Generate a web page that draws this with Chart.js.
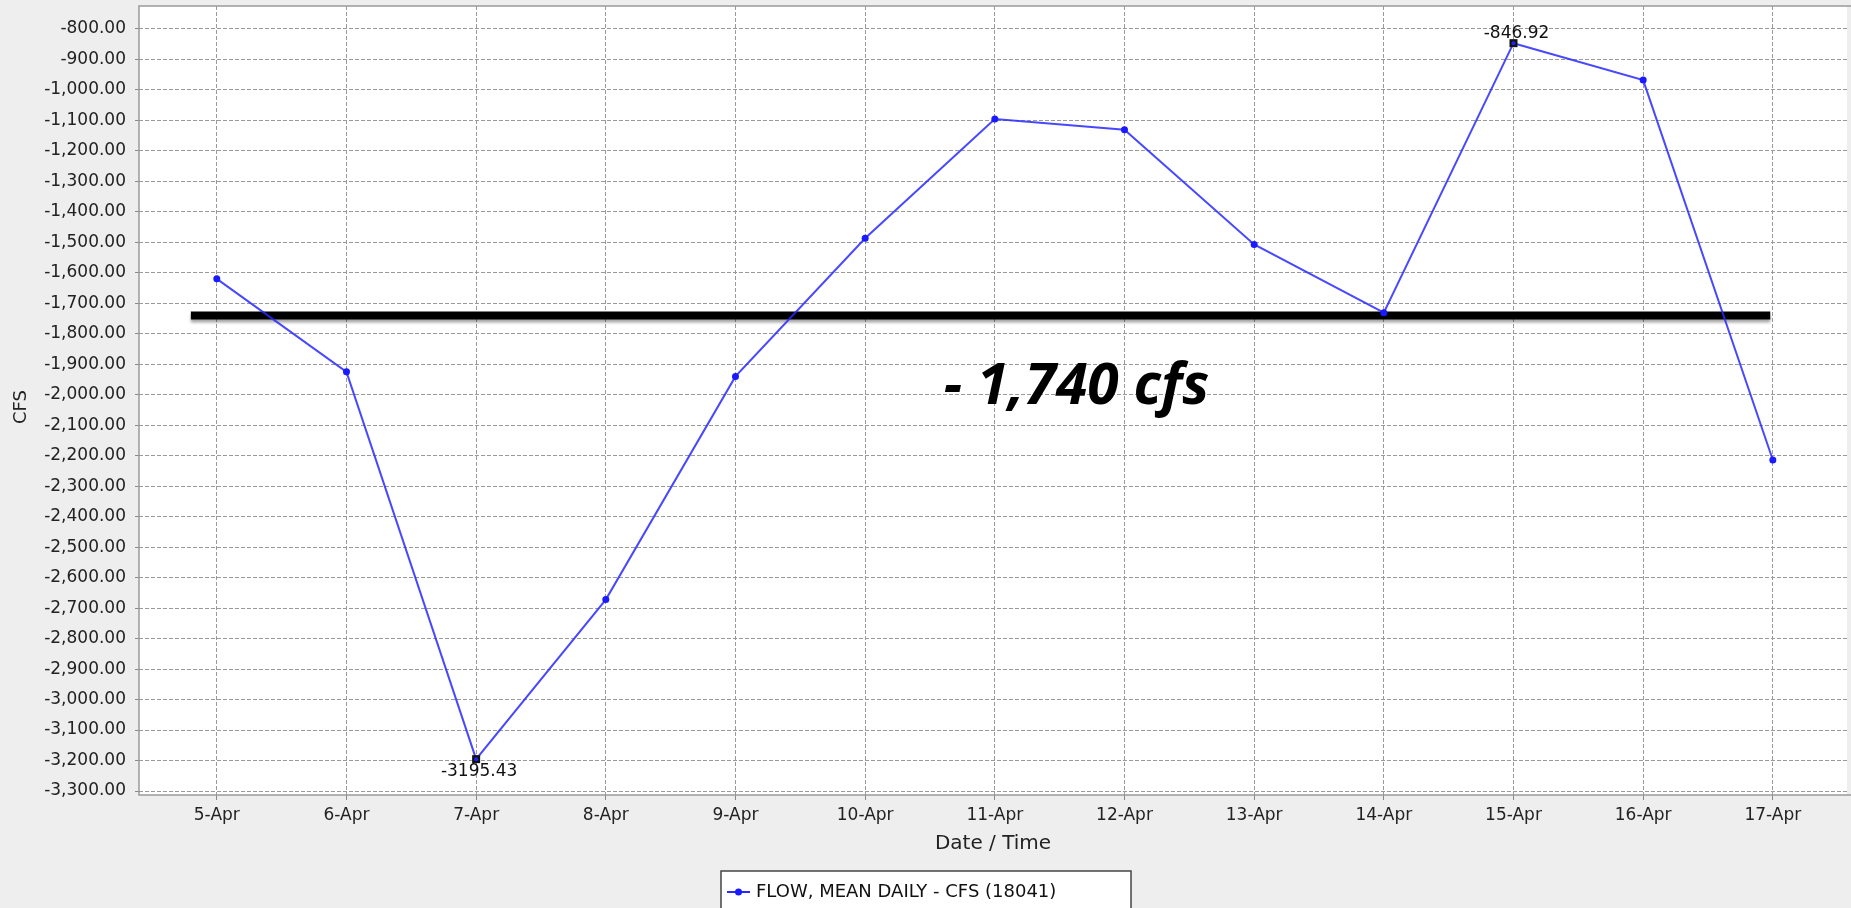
<!DOCTYPE html>
<html>
<head>
<meta charset="utf-8">
<script src="https://cdn.jsdelivr.net/npm/chart.js@4.4.0/dist/chart.umd.min.js"></script>
<style>
  html, body { margin: 0; padding: 0; background: #eeeeee; }
  #wrap { width: 1851px; height: 908px; }
</style>
</head>
<body>
<div id="wrap"><canvas id="flow-chart" width="1851" height="908"></canvas></div>
<script>
// daily flow data
var days = [5, 6, 7, 8, 9, 10, 11, 12, 13, 14, 15, 16, 17];
var dayLabels = ['5-Apr', '6-Apr', '7-Apr', '8-Apr', '9-Apr', '10-Apr', '11-Apr', '12-Apr', '13-Apr', '14-Apr', '15-Apr', '16-Apr', '17-Apr'];
var flowCfs = [-1620, -1925, -3195.43, -2672, -1940, -1487, -1096, -1131, -1507, -1731, -846.92, -968, -2214];

// y ticks every 100 cfs
var yTicks = [];
for (var t = -3300; t <= -800; t += 100) yTicks.push(t);

// reference line drawn across the plot
var refLevel = -1740;
var refSpan = [4.8, 16.98];
var refText = '- 1,740 cfs';
var refTextPos = [11.63, -2030];

// points that carry a value label
var labelledPoints = [2, 10];

var fontFam = '"DejaVu Sans", sans-serif';

var plotExtras = {
    id: 'plotExtras',
    beforeDraw: function(chart) {
        var a = chart.chartArea, c = chart.ctx;
        c.save();
        c.fillStyle = '#ffffff';
        c.fillRect(a.left, a.top, a.right - a.left, a.bottom - a.top);
        c.restore();
    },
    beforeDatasetsDraw: function(chart) {
        var a = chart.chartArea, c = chart.ctx;
        c.save();
        c.strokeStyle = '#9a9a9a';
        c.lineWidth = 1.5;
        c.strokeRect(a.left, a.top, a.right - a.left + 5, a.bottom - a.top);
        c.restore();
    },
    beforeDatasetDraw: function(chart, args) {
        if (args.index === 1) {
            chart.ctx.save();
            chart.ctx.shadowColor = 'rgba(0,0,0,0.35)';
            chart.ctx.shadowOffsetY = 3;
            chart.ctx.shadowBlur = 3;
        }
    },
    afterDatasetDraw: function(chart, args) {
        if (args.index === 1) chart.ctx.restore();
    },
    afterDraw: function(chart) {
        var c = chart.ctx, xs = chart.scales.x, ys = chart.scales.y;
        c.save();
        // y axis title
        c.save();
        c.translate(21, 407);
        c.rotate(-Math.PI / 2);
        c.font = '18px ' + fontFam;
        c.fillStyle = '#222';
        c.textAlign = 'center';
        c.textBaseline = 'middle';
        c.fillText('CFS', 0, 0);
        c.restore();
        // value labels on min / max
        labelledPoints.forEach(function(i) {
            var px = xs.getPixelForValue(days[i]), py = ys.getPixelForValue(flowCfs[i]);
            c.fillStyle = '#111';
            c.fillRect(px - 4, py - 4, 8, 8);
            c.fillStyle = '#2020ff';
            c.beginPath();
            c.arc(px, py, 2, 0, Math.PI * 2);
            c.fill();
            c.fillStyle = '#111';
            c.font = '17px ' + fontFam;
            c.textAlign = 'center';
            c.textBaseline = 'middle';
            var below = flowCfs[i] < -2000;
            c.fillText(String(flowCfs[i]), px + 3, below ? py + 12 : py - 10);
        });
        // big annotation
        c.font = 'italic bold 57px "Open Sans", sans-serif';
        c.textAlign = 'center';
        c.textBaseline = 'alphabetic';
        c.fillStyle = '#000';
        c.fillText(refText, xs.getPixelForValue(refTextPos[0]), ys.getPixelForValue(refTextPos[1]));
        // legend box
        var lx = 721, ly = 871, lw = 410, lh = 45;
        c.fillStyle = '#fff';
        c.fillRect(lx, ly, lw, lh);
        c.strokeStyle = '#444';
        c.lineWidth = 1.5;
        c.strokeRect(lx, ly, lw, lh);
        c.strokeStyle = '#2a2aff';
        c.lineWidth = 2;
        c.beginPath();
        c.moveTo(727, 892);
        c.lineTo(750, 892);
        c.stroke();
        c.fillStyle = '#1a1aff';
        c.beginPath();
        c.arc(738.5, 892, 3.5, 0, Math.PI * 2);
        c.fill();
        c.font = '18px ' + fontFam;
        c.textAlign = 'left';
        c.textBaseline = 'middle';
        c.fillStyle = '#111';
        c.fillText(chart.data.datasets[0].label, 756, 892);
        c.restore();
    }
};

var ctx = document.getElementById('flow-chart').getContext('2d');
var chart = new Chart(ctx, {
    type: 'line',
    data: {
        datasets: [{
            label: 'FLOW, MEAN DAILY - CFS (18041)',
            data: days.map(function(d, i) { return { x: d, y: flowCfs[i] }; }),
            borderColor: 'rgba(40, 40, 255, 0.85)',
            backgroundColor: '#1a1aff',
            borderWidth: 2,
            pointRadius: 3.5,
            pointBorderWidth: 0,
            tension: 0
        }, {
            label: 'ref',
            data: refSpan.map(function(d) { return { x: d, y: refLevel }; }),
            borderColor: '#000',
            borderWidth: 8,
            pointRadius: 0,
            borderCapStyle: 'butt'
        }]
    },
    plugins: [plotExtras],
    options: {
        responsive: false,
        animation: false,
        layout: { padding: { left: 0, right: 0, top: 6, bottom: 40 } },
        plugins: {
            legend: { display: false },
            tooltip: { enabled: false }
        },
        scales: {
            x: {
                type: 'linear',
                min: 4.4,
                max: 17.572,
                afterFit: function(s) { s.height = 73; s.paddingLeft = 0; s.paddingRight = 0; },
                afterBuildTicks: function(s) {
                    s.ticks = days.map(function(d) { return { value: d }; });
                },
                ticks: {
                    padding: 5,
                    color: '#222',
                    font: { family: fontFam, size: 17 },
                    maxRotation: 0,
                    autoSkip: false,
                    callback: function(v) { return dayLabels[days.indexOf(v)]; }
                },
                grid: {
                    color: '#9a9a9a',
                    tickColor: '#888',
                    tickLength: 5,
                    tickBorderDash: [],
                    drawOnChartArea: true
                },
                border: { display: false, dash: [4, 2] },
                title: {
                    display: true,
                    text: 'Date / Time',
                    color: '#222',
                    font: { family: fontFam, size: 20 },
                    padding: { top: 4, bottom: 12 }
                }
            },
            y: {
                min: -3313,
                max: -725,
                afterFit: function(s) { s.width = 139; s.paddingTop = 0; s.paddingBottom = 0; },
                afterBuildTicks: function(s) {
                    s.ticks = yTicks.map(function(v) { return { value: v }; });
                },
                ticks: {
                    padding: 9,
                    autoSkip: false,
                    color: '#222',
                    font: { family: fontFam, size: 17 },
                    callback: function(v) {
                        return v.toLocaleString('en-US', { minimumFractionDigits: 2, maximumFractionDigits: 2 });
                    }
                },
                grid: {
                    color: '#9a9a9a',
                    tickColor: '#888',
                    tickLength: 4
                },
                border: { display: false, dash: [4, 2] },
                title: { display: false }
            }
        }
    }
});
</script>
</body>
</html>
